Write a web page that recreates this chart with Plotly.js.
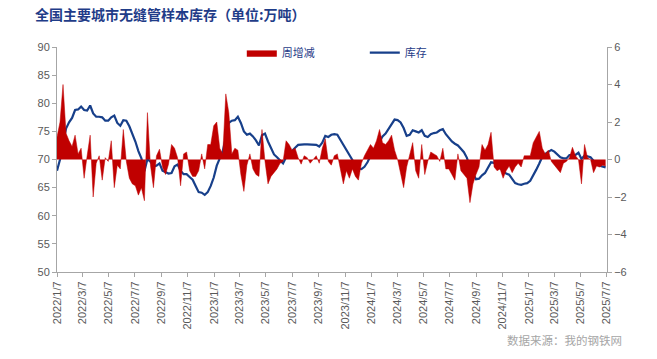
<!DOCTYPE html>
<html>
<head>
<meta charset="utf-8">
<script src="https://cdn.plot.ly/plotly-3.0.1.min.js"></script>
<style>html,body{margin:0;padding:0;background:#fff;}#chart{width:657px;height:359px;}</style>
</head>
<body>
<div id="chart"></div>
<script>
// Weekly dates: first week and count
const startDate = "2022-01-07";
const weekCount = 183;

// 库存 (left axis, 万吨)
const inventory = [
68.0,70.0,72.8,75.5,76.6,77.4,78.8,78.9,79.4,78.8,
78.7,79.6,78.2,77.6,77.6,77.5,76.9,76.9,77.5,77.8,
76.5,76.0,77.0,76.9,75.9,74.6,73.2,71.5,70.2,67.9,
70.1,69.6,68.8,68.9,69.3,68.0,67.8,67.5,67.6,68.8,
69.1,68.0,67.4,67.4,66.9,66.4,65.3,64.2,64.1,63.7,
64.2,65.3,66.8,68.9,70.2,71.5,73.9,76.5,76.9,77.0,
77.6,76.5,75.0,74.4,74.6,74.1,73.4,72.5,74.3,74.6,
73.2,71.9,70.9,70.4,69.8,69.3,70.4,71.0,71.6,72.1,
72.6,72.7,72.7,72.7,72.7,72.6,72.6,72.3,73.0,74.2,
74.0,74.4,74.5,74.4,73.5,72.7,71.9,70.9,69.9,68.8,
68.4,68.3,68.7,69.5,70.6,71.3,72.3,73.2,74.1,74.6,
75.4,76.4,77.1,77.0,76.6,75.6,74.2,74.4,75.2,75.0,
74.8,75.2,74.2,74.0,74.5,74.7,74.8,75.2,75.4,74.5,
73.8,73.2,72.8,72.5,71.9,71.3,70.3,68.6,67.5,66.5,
66.6,67.2,67.6,68.6,69.5,69.4,69.0,68.5,68.0,67.5,
67.3,66.5,65.8,65.6,65.5,65.7,65.8,66.2,67.1,68.2,
69.3,70.5,71.0,71.4,71.7,71.4,70.9,70.4,70.2,70.2,
70.8,70.8,70.8,71.2,70.1,70.7,70.6,70.4,69.8,69.2,
68.9,68.7,68.6
];

// 周增减 (right axis, 万吨)
const weeklyChange = [
1.2,2.0,4.0,1.4,1.0,0.7,1.3,0.3,0.6,-1.0,
0.2,1.3,-2.0,-0.2,0.2,-1.1,0.1,-0.1,1.0,-1.5,
-0.3,-0.5,1.6,-0.1,-1.0,-1.3,-1.4,-1.9,-1.5,-2.2,
2.5,-0.3,-1.5,0.2,0.55,-0.4,-0.8,-0.25,0.8,0.6,
0.1,-1.4,0.3,0.4,-0.6,-0.9,-0.9,-0.6,0.3,-0.5,
0.8,0.8,1.8,2.0,0.6,0.3,3.5,2.5,0.3,0.6,
0.5,-0.8,-1.7,-0.3,0.3,-0.5,-0.8,-0.9,1.6,-0.1,
-1.3,-0.9,-0.7,-0.5,-0.2,-0.1,1.0,0.8,0.5,0.6,
0.1,-0.25,0.2,0.1,-0.2,0.0,0.2,-0.2,0.6,1.1,
-0.1,-0.3,0.2,0.3,-0.5,-1.3,-0.6,-1.0,-0.5,-0.9,
-1.1,-0.2,0.2,0.5,0.8,0.6,1.0,1.6,0.9,0.8,
1.0,1.3,0.5,0.0,-0.8,-1.5,-0.4,0.2,0.9,-0.6,
-1.0,0.8,-0.8,-0.1,0.4,0.3,0.2,-0.1,0.6,-0.5,
-0.5,-0.8,-1.1,0.3,-0.6,-0.8,-1.0,-2.3,-1.3,-0.8,
-0.4,0.8,0.5,0.8,1.45,-0.4,-0.6,-0.5,-1.0,-0.6,
-0.35,-0.7,-0.4,-0.2,-0.4,0.2,0.2,0.2,0.9,1.2,
1.5,0.6,0.3,0.5,-0.1,-0.3,-0.5,-0.7,-0.2,-0.1,
0.1,0.65,0.2,0.0,-1.3,0.8,0.1,0.0,-0.7,-0.35,
-0.4,-0.3,-0.35
];

const seriesNames = ["周增减", "库存"];
const titleText = "全国主要城市无缝管样本库存（单位:万吨）";
const sourceText = "数据来源：我的钢铁网";

function weeklyDates(start, n) {
  const out = [];
  const d0 = new Date(start + "T00:00:00Z");
  for (let i = 0; i < n; i++) {
    const d = new Date(d0.getTime() + i * 7 * 86400000);
    out.push(d.toISOString().slice(0, 10));
  }
  return out;
}
const dates = weeklyDates(startDate, weekCount);

const axisGray = "#a6a6a6";
const tickFont = {family: "Liberation Sans, Arial, sans-serif", size: 11, color: "#595959"};

const traces = [
  {
    x: dates, y: weeklyChange, name: seriesNames[0], type: "scatter", mode: "lines",
    fill: "tozeroy", fillcolor: "#C00000", line: {color: "#C00000", width: 0.5},
    yaxis: "y2"
  },
  {
    x: dates, y: inventory, name: seriesNames[1], type: "scatter", mode: "lines",
    line: {color: "#173F8A", width: 2.2}, yaxis: "y"
  }
];

const layout = {
  width: 657, height: 359,
  margin: {l: 57, r: 50, t: 47, b: 87},
  paper_bgcolor: "#ffffff", plot_bgcolor: "#ffffff",
  showlegend: true,
  title: {
    text: "<b>" + titleText + "</b>",
    font: {family: "Noto Sans CJK SC", size: 14, color: "#1f3c88"},
    x: 35 / 657, xref: "container", xanchor: "left",
    y: 1 - 15 / 359, yref: "container", yanchor: "middle"
  },
  legend: {
    orientation: "h", x: 0.336, xanchor: "left", y: 0.975, yanchor: "middle",
    font: {family: "Noto Sans CJK SC", size: 11, color: "#1f3c88"},
    bgcolor: "rgba(0,0,0,0)", entrywidth: 78, entrywidthmode: "pixels",
    itemwidth: 30
  },
  xaxis: {
    type: "date",
    range: ["2022-01-07", "2025-07-07 06:00"],
    tick0: "2022-01-07", dtick: "M2", tickformat: "%Y/%-m/%-d",
    tickangle: -90, tickfont: tickFont,
    showline: true, linecolor: axisGray, linewidth: 1,
    ticks: "outside", ticklen: 4, tickcolor: axisGray,
    showgrid: false, zeroline: false
  },
  yaxis: {
    range: [50, 90], dtick: 5, tick0: 50, tickfont: tickFont,
    showline: true, linecolor: axisGray, linewidth: 1,
    ticks: "outside", ticklen: 4, tickcolor: axisGray,
    showgrid: false, zeroline: false
  },
  yaxis2: {
    range: [-6, 6], dtick: 2, tick0: -6, tickfont: tickFont,
    overlaying: "y", side: "right",
    showline: true, linecolor: axisGray, linewidth: 1,
    ticks: "outside", ticklen: 4, tickcolor: axisGray,
    showgrid: false, zeroline: false
  },
  annotations: [
    {
      text: sourceText, xref: "paper", yref: "paper",
      x: 1.03, y: -0.30, xanchor: "right", yanchor: "middle", showarrow: false,
      font: {family: "Noto Sans CJK SC", size: 11.5, color: "#a6a6a6"}
    }
  ]
};

Plotly.newPlot("chart", traces, layout, {displayModeBar: false, staticPlot: true});
</script>
</body>
</html>
